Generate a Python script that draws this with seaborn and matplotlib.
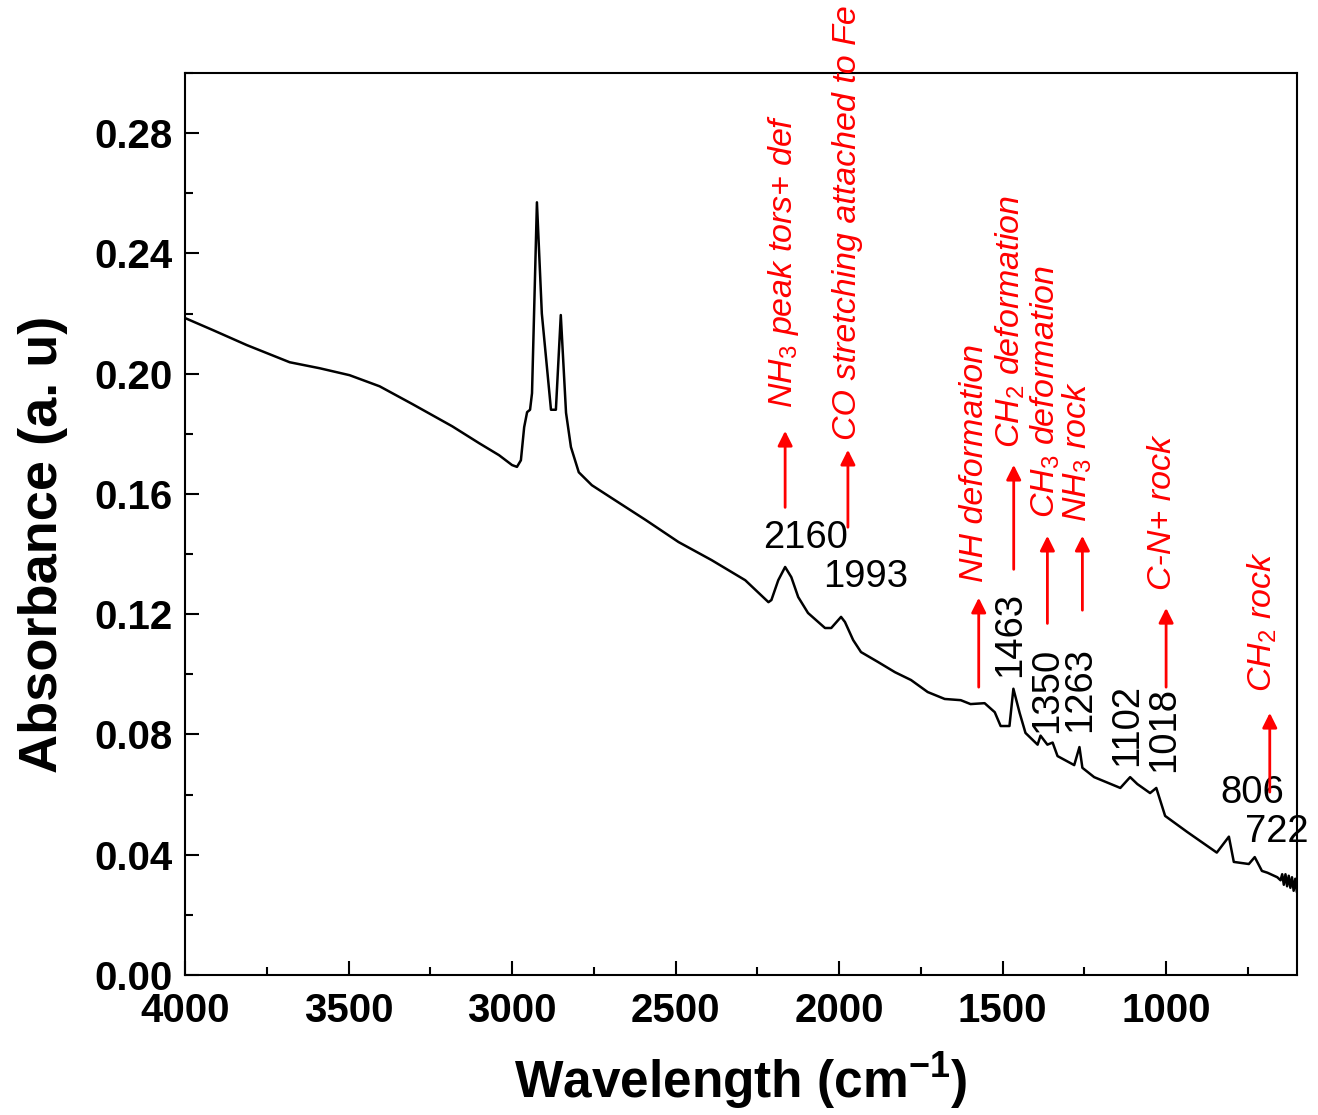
import matplotlib
matplotlib.use("Agg")
import matplotlib.pyplot as plt
import seaborn as sns
import pandas as pd
from matplotlib.ticker import MultipleLocator

# spectrum (wavenumber in cm-1, absorbance)
wavenumber = [4000, 3915, 3811, 3680, 3588, 3497, 3405, 3305, 3183, 3101,
              3040, 3000, 2985, 2973, 2963, 2954, 2945, 2939, 2924, 2909,
              2881, 2866, 2851, 2835, 2820, 2796, 2756, 2695, 2591, 2491,
              2390, 2287, 2216, 2207, 2186, 2165, 2146, 2125, 2095, 2043,
              2024, 1994, 1982, 1957, 1933, 1881, 1829, 1780, 1729, 1677,
              1628, 1598, 1555, 1524, 1506, 1479, 1467, 1448, 1430, 1393,
              1384, 1363, 1347, 1332, 1281, 1265, 1256, 1220, 1140, 1110,
              1088, 1049, 1030, 1003, 936, 845, 808, 793, 747, 729,
              707, 690, 670, 660, 650, 645, 640, 635, 630, 625,
              620, 615, 610, 605, 600]
absorbance = [0.2185, 0.2145, 0.2095, 0.2038, 0.2018, 0.1995, 0.1958, 0.1899, 0.1825, 0.1769,
              0.1729, 0.1696, 0.1690, 0.1712, 0.1822, 0.1872, 0.1880, 0.1935, 0.2570, 0.2200,
              0.1880, 0.1880, 0.2195, 0.1870, 0.1756, 0.1672, 0.1629, 0.1586, 0.1513, 0.1440,
              0.1380, 0.1313, 0.1240, 0.1247, 0.1313, 0.1357, 0.1323, 0.1257, 0.1204, 0.1154,
              0.1154, 0.1191, 0.1174, 0.1114, 0.1074, 0.1041, 0.1007, 0.0981, 0.0941, 0.0918,
              0.0914, 0.0901, 0.0904, 0.0874, 0.0828, 0.0828, 0.0952, 0.0872, 0.0805, 0.0766,
              0.0796, 0.0766, 0.0773, 0.0728, 0.0698, 0.0758, 0.0689, 0.0658, 0.0622, 0.0658,
              0.0635, 0.0605, 0.0622, 0.0529, 0.0476, 0.0407, 0.0460, 0.0376, 0.0369, 0.0392,
              0.0346, 0.0340, 0.0330, 0.0325, 0.0315, 0.0335, 0.0300, 0.0335, 0.0295, 0.0330,
              0.0290, 0.0325, 0.0280, 0.0320, 0.0275]

# peak numbers
peak_labels = ["2160", "1993", "1463", "1350", "1263", "1102", "1018", "806", "722"]
peak_rot = [0, 0, 90, 90, 90, 90, 90, 0, 0]
peak_pos = [(2101, 0.1453), (1918, 0.1323), (1476, 0.1131), (1363, 0.0948), (1262, 0.0948),
            (1119, 0.0831), (1006, 0.0815), (738, 0.0605), (662, 0.0475)]

# band assignments (red)
band_labels = [r"NH$_3$ peak tors+ def", "CO stretching attached to Fe", "NH deformation",
               r"CH$_2$ deformation", r"CH$_3$ deformation", r"NH$_3$ rock",
               "C-N+ rock", r"CH$_2$ rock"]
arrow_x = [2165, 1973, 1573, 1466, 1363, 1256, 1000, 683]
arrow_y0 = [0.1546, 0.1480, 0.0948, 0.1340, 0.1160, 0.1204, 0.0948, 0.0599]
arrow_y1 = [0.1819, 0.1756, 0.1264, 0.1706, 0.1470, 0.1470, 0.1230, 0.0881]
text_x = [2171, 1973, 1585, 1476, 1369, 1271, 1012, 707]
text_y = [0.1885, 0.1780, 0.1307, 0.1752, 0.1520, 0.1506, 0.1280, 0.0941]

sns.set_style("ticks")
plt.rcParams['font.family'] = ['Liberation Sans', 'DejaVu Sans']
plt.rcParams['mathtext.fontset'] = 'custom'
plt.rcParams['mathtext.rm'] = 'Liberation Sans'
plt.rcParams['mathtext.it'] = 'Liberation Sans:italic'
plt.rcParams['mathtext.bf'] = 'Liberation Sans:bold'
plt.rcParams['xtick.direction'] = 'in'
plt.rcParams['ytick.direction'] = 'in'
plt.rcParams['text.color'] = 'black'
plt.rcParams['axes.labelcolor'] = 'black'
plt.rcParams['xtick.color'] = 'black'
plt.rcParams['ytick.color'] = 'black'
plt.rcParams['axes.edgecolor'] = 'black'

df = pd.DataFrame({"Wavenumber": wavenumber, "Absorbance": absorbance})

fig = plt.figure(figsize=(13.18, 11.15), dpi=100)
ax = fig.add_axes([0.1404, 0.1256, 0.8436, 0.8089])
sns.lineplot(data=df, x="Wavenumber", y="Absorbance", ax=ax, color="black",
             linewidth=1.8, estimator=None, sort=False)

ax.set_xlim(4000, 600)
ax.set_ylim(0, 0.30)
ax.xaxis.set_major_locator(MultipleLocator(500))
ax.xaxis.set_minor_locator(MultipleLocator(250))
ax.yaxis.set_minor_locator(MultipleLocator(0.02))
yticks = [0.00, 0.04, 0.08, 0.12, 0.16, 0.20, 0.24, 0.28]
ax.set_yticks(yticks)
ax.set_yticklabels([f"{v:.2f}" for v in yticks])
ax.tick_params(which='major', length=10, width=1.5, labelsize=29)
ax.tick_params(axis='y', which='major', pad=9)
ax.tick_params(axis='x', which='major', pad=12)
ax.tick_params(which='minor', length=6, width=1.5)
for lbl in ax.get_xticklabels() + ax.get_yticklabels():
    lbl.set_fontweight('bold')
for sp in ax.spines.values():
    sp.set_linewidth(1.5)
    sp.set_visible(True)

ax.set_xlabel(r"Wavelength (cm$^{\mathbf{-1}}$)", fontsize=37, fontweight='bold', labelpad=15)
ax.set_ylabel("Absorbance (a. u)", fontsize=39, fontweight='bold')
ax.yaxis.set_label_coords(-0.105, 0.477)

# peak positions
for lab, rot, (px, py) in zip(peak_labels, peak_rot, peak_pos):
    ax.text(px, py, lab, fontsize=27.5, color='black', rotation=rot,
            ha='center', va='center')

# assignments with arrows
for lab, ax_x, y0, y1, tx, ty in zip(band_labels, arrow_x, arrow_y0, arrow_y1, text_x, text_y):
    ax.annotate("", xy=(ax_x, y1), xytext=(ax_x, y0),
                arrowprops=dict(arrowstyle="-|>", color="red", lw=2, mutation_scale=22))
    ax.text(tx, ty, lab, fontsize=24.5, color='red', style='italic', rotation=90,
            ha='center', va='bottom', clip_on=False)

plt.savefig("out.png", dpi=100)
plt.close()
